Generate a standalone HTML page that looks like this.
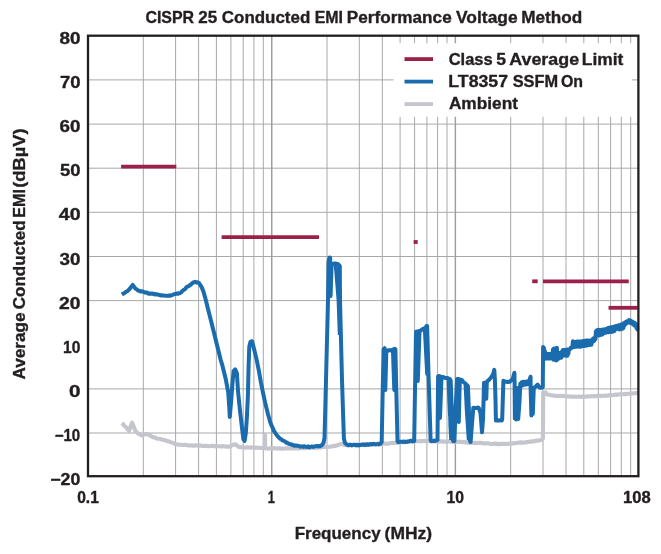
<!DOCTYPE html>
<html><head><meta charset="utf-8"><title>CISPR 25 Conducted EMI</title>
<style>html,body{margin:0;padding:0;background:#fff}body{width:661px;height:554px;overflow:hidden;position:relative;font-family:"Liberation Sans",sans-serif}</style></head>
<body>
<svg width="661" height="554" viewBox="0 0 661 554" style="position:absolute;left:0;top:0;will-change:transform">
<rect x="0" y="0" width="661" height="554" fill="#fff"/>
<path d="M143.3,35.7V476.2M175.6,35.7V476.2M198.6,35.7V476.2M216.4,35.7V476.2M230.9,35.7V476.2M243.2,35.7V476.2M253.9,35.7V476.2M263.3,35.7V476.2M271.7,35.7V476.2M327.0,35.7V476.2M359.3,35.7V476.2M382.3,35.7V476.2M400.1,35.7V476.2M414.6,35.7V476.2M426.9,35.7V476.2M437.6,35.7V476.2M447.0,35.7V476.2M455.4,35.7V476.2M510.7,35.7V476.2M543.0,35.7V476.2M566.0,35.7V476.2M583.8,35.7V476.2M598.3,35.7V476.2M610.6,35.7V476.2M621.3,35.7V476.2M630.7,35.7V476.2M88.0,79.9H638.4M88.0,124.1H638.4M88.0,168.2H638.4M88.0,212.3H638.4M88.0,256.5H638.4M88.0,300.6H638.4M88.0,388.9H638.4M88.0,433.0H638.4" stroke="#a8a8a8" stroke-width="1.00" fill="none"/>
<path d="M271.7,35.7V476.2M455.4,35.7V476.2" stroke="#9e9e9e" stroke-width="1.35" fill="none"/>
<rect x="393.5" y="43.2" width="238.5" height="73.6" fill="#fff"/>
<path d="M121.8,423.1 L123.0,424.1 L124.2,425.7 L125.4,426.7 L126.6,427.8 L127.9,429.6 L129.1,430.9 L130.3,427.2 L132.1,422.7 L133.6,426.3 L135.4,430.9 L136.8,432.2 L138.1,433.6 L139.3,434.0 L140.6,434.9 L141.8,435.4 L143.6,434.7 L145.4,434.1 L147.2,434.4 L149.0,434.5 L150.2,435.7 L151.5,436.2 L152.7,437.2 L154.0,437.3 L155.4,437.8 L156.8,438.4 L158.1,438.7 L159.4,438.8 L160.7,439.0 L161.9,439.7 L163.2,439.8 L164.5,440.0 L165.8,440.4 L167.2,441.1 L168.6,441.2 L169.9,441.8 L171.3,442.4 L172.7,442.7 L174.0,443.4 L175.4,444.0 L176.8,444.4 L178.3,444.6 L179.7,444.8 L181.2,444.7 L182.6,444.9 L183.9,445.0 L185.2,444.9 L186.5,444.9 L187.8,445.2 L189.1,445.5 L190.4,445.5 L191.7,445.4 L193.0,445.6 L194.2,445.8 L195.5,445.4 L196.8,445.4 L198.1,445.6 L199.3,445.6 L200.6,445.6 L201.9,445.7 L203.1,445.9 L204.4,445.9 L205.6,445.9 L206.8,445.9 L208.0,446.2 L209.2,446.3 L210.4,446.0 L211.7,445.8 L212.9,445.9 L214.1,446.4 L215.3,445.9 L216.5,446.4 L217.7,446.3 L218.9,446.3 L220.1,446.2 L221.4,446.6 L222.6,446.1 L223.8,446.3 L225.1,446.5 L226.3,446.3 L227.5,446.8 L228.8,446.5 L230.0,446.7 L231.5,445.5 L233.0,444.8 L234.5,444.4 L236.0,444.6 L237.5,445.9 L239.0,447.0 L240.2,447.0 L241.4,447.2 L242.7,447.3 L243.9,447.5 L245.1,447.6 L246.3,447.5 L247.6,447.3 L248.8,447.5 L250.0,447.6 L251.2,447.4 L252.4,447.4 L253.7,447.7 L254.9,447.9 L256.1,447.6 L257.3,447.7 L258.5,447.7 L259.7,448.0 L261.0,447.9 L262.2,448.0 L263.4,448.1 L264.6,448.0 L264.8,434.5 L265.0,434.5 L265.2,448.3 L266.4,448.2 L267.7,448.5 L268.9,448.6 L270.2,448.1 L271.4,448.6 L272.6,448.5 L273.9,448.1 L275.1,448.3 L276.4,448.4 L277.6,448.6 L278.8,448.3 L280.1,448.4 L281.3,448.6 L282.6,448.5 L283.8,448.6 L285.0,448.4 L286.3,448.5 L287.5,448.2 L288.8,448.5 L290.0,448.4 L291.2,448.6 L292.4,448.4 L293.6,448.4 L294.8,448.1 L296.0,448.5 L297.2,448.5 L298.4,448.4 L299.6,448.1 L300.8,448.3 L302.0,447.9 L303.2,448.2 L304.4,448.2 L305.6,447.8 L306.8,447.6 L308.0,447.8 L309.2,447.9 L310.4,447.9 L311.6,447.7 L312.8,447.4 L314.0,447.9 L315.2,447.4 L316.4,447.8 L317.6,447.4 L318.8,447.4 L320.0,447.5 L321.2,447.5 L322.5,447.0 L323.8,446.9 L325.0,447.0 L326.2,447.0 L327.5,447.0 L328.8,446.7 L330.0,446.8 L331.2,446.4 L332.5,446.5 L333.8,445.9 L335.0,446.0 L336.4,445.4 L337.8,445.1 L339.1,444.5 L340.5,444.3 L341.9,443.7 L343.4,444.4 L345.0,445.0 L346.2,445.0 L347.4,445.2 L348.6,445.0 L349.8,444.8 L351.0,444.8 L352.2,445.0 L353.4,445.0 L354.7,444.6 L355.9,445.0 L357.1,445.0 L358.3,444.7 L359.5,444.7 L360.7,444.5 L361.9,444.6 L363.1,444.6 L364.3,444.6 L365.5,444.2 L366.7,444.8 L367.9,444.5 L369.1,444.4 L370.3,444.6 L371.6,444.4 L372.8,444.4 L374.0,444.5 L375.2,444.0 L376.4,444.3 L377.6,444.2 L378.8,444.5 L380.0,444.2 L381.2,444.3 L382.5,443.8 L383.8,443.8 L385.0,443.5 L386.2,443.6 L387.5,443.7 L388.8,443.6 L390.0,443.2 L391.2,443.0 L392.5,442.8 L393.8,443.0 L395.0,443.0 L396.2,442.4 L397.5,442.7 L398.8,442.1 L400.0,442.3 L401.2,442.0 L402.5,442.0 L403.7,442.2 L404.9,441.9 L406.2,441.8 L407.4,441.9 L408.6,441.5 L409.8,441.8 L411.1,441.3 L412.3,441.5 L413.5,441.2 L414.8,441.1 L416.0,441.2 L417.2,441.2 L418.4,441.2 L419.7,441.1 L420.9,441.1 L422.1,441.2 L423.3,441.0 L424.6,441.0 L425.8,441.3 L427.0,441.2 L428.3,441.3 L429.6,441.3 L430.9,441.5 L432.2,441.3 L433.5,441.5 L434.8,441.2 L436.1,441.5 L437.4,441.5 L438.7,441.6 L440.0,441.4 L441.2,441.3 L442.5,441.4 L443.8,441.7 L445.0,441.4 L446.2,441.9 L447.5,441.8 L448.8,441.4 L450.0,441.5 L451.2,441.8 L452.5,441.6 L453.8,441.5 L455.0,442.0 L456.2,441.8 L457.5,442.0 L458.8,441.6 L460.0,441.9 L461.3,441.9 L462.6,442.2 L463.9,441.9 L465.2,442.1 L466.5,442.5 L467.8,442.7 L469.1,442.8 L470.4,442.4 L471.7,442.7 L473.0,442.8 L474.2,443.0 L475.4,442.9 L476.7,443.1 L477.9,442.9 L479.1,442.8 L480.3,442.9 L481.6,443.0 L482.8,443.3 L484.0,443.4 L485.2,443.5 L486.4,443.3 L487.7,443.3 L488.9,443.4 L490.1,443.9 L491.3,444.0 L492.6,444.0 L493.8,443.6 L495.0,443.9 L496.3,443.6 L497.6,444.2 L498.9,443.9 L500.2,444.1 L501.5,443.8 L502.8,443.9 L504.1,443.9 L505.4,443.9 L506.7,444.0 L508.0,443.9 L509.2,443.5 L510.4,443.8 L511.6,443.8 L512.8,443.2 L514.0,443.3 L515.2,443.3 L516.4,443.0 L517.6,442.8 L518.8,442.6 L520.0,442.7 L521.2,442.3 L522.4,442.7 L523.6,442.6 L524.8,442.4 L526.0,442.4 L527.2,442.1 L528.4,441.9 L529.6,441.8 L530.9,441.6 L532.2,441.4 L533.6,441.4 L534.9,441.1 L536.2,440.5 L537.5,440.7 L538.9,440.4 L540.2,440.2 L541.5,439.8 L542.9,439.0 L543.2,392.5 L545.5,392.3 L546.9,394.3 L548.2,394.7 L549.6,394.7 L550.9,395.2 L552.2,395.5 L553.6,395.6 L554.9,395.7 L556.1,395.9 L557.4,396.0 L558.6,395.8 L559.9,396.1 L561.1,395.8 L562.3,396.0 L563.6,396.1 L564.8,395.9 L566.0,396.2 L567.3,396.4 L568.5,396.5 L569.8,396.3 L571.0,396.8 L572.2,396.7 L573.5,396.5 L574.7,396.7 L575.9,396.8 L577.2,396.7 L578.4,396.6 L579.7,396.5 L580.9,396.9 L582.2,396.6 L583.4,396.6 L584.7,396.7 L585.9,396.8 L587.1,396.2 L588.4,396.5 L589.6,396.5 L590.9,396.2 L592.1,396.3 L593.4,396.1 L594.6,396.3 L595.8,396.0 L597.1,396.1 L598.3,395.8 L599.5,395.8 L600.8,396.1 L602.0,395.8 L603.3,395.7 L604.5,395.9 L605.7,395.6 L607.0,395.7 L608.2,395.4 L609.5,395.4 L610.7,394.9 L611.9,395.1 L613.2,395.1 L614.4,394.9 L615.6,394.5 L616.9,395.0 L618.1,394.4 L619.4,394.5 L620.6,394.2 L621.9,394.3 L623.1,394.3 L624.3,393.8 L625.6,394.3 L626.8,393.9 L628.1,393.8 L629.3,393.8 L630.6,393.5 L631.8,393.4 L633.1,393.5 L634.3,393.3 L635.6,393.2 L637.0,392.9 L638.3,392.9" stroke="#c4c5cd" stroke-width="4.1" fill="none" stroke-linejoin="round" stroke-linecap="butt"/>
<path d="M121.8,294.5 L122.7,293.9 L123.6,293.4 L124.5,293.2 L125.5,292.2 L126.4,291.6 L127.3,291.2 L128.2,290.5 L130.9,287.2 L132.7,284.9 L135.4,288.7 L136.6,289.1 L137.8,290.2 L139.0,290.9 L139.9,291.2 L140.8,291.6 L141.7,291.2 L142.7,291.6 L143.6,291.7 L144.5,292.5 L145.4,292.6 L146.3,292.7 L147.2,292.5 L148.1,293.5 L149.0,293.7 L149.9,293.6 L150.9,293.7 L151.8,293.5 L152.7,293.5 L153.6,294.2 L154.5,293.9 L155.4,294.5 L156.3,294.3 L157.2,294.5 L158.1,294.4 L159.0,294.9 L159.9,295.0 L160.9,295.5 L161.8,295.3 L162.7,295.5 L163.6,295.5 L164.5,295.6 L165.7,295.8 L166.9,295.7 L168.1,295.8 L169.0,295.4 L169.9,295.8 L170.8,295.6 L171.7,295.2 L172.6,294.9 L173.5,294.5 L174.4,294.1 L175.3,293.9 L176.2,293.8 L177.2,293.4 L178.1,293.8 L179.0,293.3 L179.9,293.2 L181.1,292.4 L182.3,291.0 L183.5,290.0 L184.4,289.7 L185.3,288.8 L186.3,287.3 L187.2,286.8 L188.1,286.3 L189.0,286.0 L189.9,285.0 L190.8,284.8 L191.7,283.6 L192.6,283.1 L193.5,282.3 L194.4,282.3 L195.3,281.8 L196.2,282.4 L197.2,282.3 L198.1,282.5 L199.0,283.2 L201.7,287.2 L203.5,291.8 L205.3,298.1 L208.0,309.0 L210.8,319.9 L213.5,330.8 L216.2,341.7 L218.9,352.6 L220.7,360.0 L222.3,365.2 L225.8,379.3 L228.2,392.2 L229.3,407.5 L229.8,416.9 L231.2,400.4 L232.4,384.0 L233.6,371.1 L235.2,369.4 L236.9,373.4 L238.0,391.0 L239.9,409.8 L241.8,426.2 L243.4,439.2 L244.6,440.8 L245.8,433.3 L246.9,416.9 L247.9,395.7 L248.6,365.2 L249.3,346.4 L250.5,341.7 L252.1,341.3 L254.0,348.8 L256.3,358.2 L258.7,369.9 L261.0,382.8 L263.4,394.6 L265.7,405.1 L268.1,414.5 L270.4,422.7 L273.9,430.9 L277.5,436.1 L278.4,436.8 L279.4,438.2 L280.3,438.9 L281.3,439.1 L282.2,440.3 L283.2,440.6 L284.1,441.0 L285.1,441.5 L286.1,442.6 L287.0,442.6 L288.0,443.4 L289.0,443.8 L290.0,444.1 L290.9,444.2 L291.9,445.0 L292.9,444.8 L293.9,445.5 L294.9,445.8 L295.9,445.4 L296.9,445.8 L297.9,445.8 L298.9,445.9 L299.9,446.7 L300.9,446.4 L301.8,446.7 L302.8,446.3 L303.7,446.9 L304.7,446.3 L305.6,446.6 L306.5,447.0 L307.5,446.9 L308.4,446.4 L309.4,447.3 L310.3,446.9 L311.3,446.6 L312.2,446.5 L313.2,446.9 L314.2,446.5 L315.1,446.4 L316.1,446.1 L317.1,446.0 L318.1,446.4 L319.0,446.0 L320.0,446.2 L321.5,445.5 L323.5,443.0 L324.5,438.0 L326.0,380.0 L328.0,300.0 L328.5,262.0 L329.5,257.5 L330.2,258.0 L330.3,296.0 L330.6,296.0 L331.6,264.0 L332.7,263.9 L333.9,263.6 L335.0,263.5 L336.0,263.6 L337.0,264.2 L338.0,264.0 L338.9,265.0 L339.8,266.0 L340.0,300.0 L342.0,380.0 L343.9,438.6 L345.0,443.0 L346.4,444.1 L347.7,445.0 L348.6,445.3 L349.6,444.7 L350.5,444.7 L351.5,445.4 L352.4,445.3 L353.4,444.8 L354.3,444.7 L355.3,445.2 L356.2,445.4 L357.2,444.7 L358.1,445.4 L359.1,445.3 L360.0,445.0 L360.9,445.0 L361.9,444.8 L362.8,444.5 L363.7,444.4 L364.7,445.1 L365.6,444.4 L366.6,444.8 L367.5,444.3 L368.4,444.8 L369.4,444.5 L370.3,444.2 L371.2,444.1 L372.2,444.5 L373.1,443.8 L374.0,443.9 L375.0,444.2 L375.9,444.4 L376.9,444.1 L377.8,443.8 L378.7,444.3 L379.7,443.6 L380.6,443.8 L381.7,442.0 L382.5,400.0 L383.6,349.4 L384.6,348.2 L386.0,352.0 L385.3,390.0 L386.3,352.0 L388.0,350.5 L389.0,350.1 L390.0,350.3 L391.0,350.5 L392.5,349.6 L393.0,352.0 L394.3,390.0 L394.0,352.0 L394.7,348.7 L395.4,349.4 L396.3,390.0 L397.5,441.0 L398.2,442.2 L399.1,442.1 L400.0,441.7 L400.9,441.7 L401.8,441.8 L402.7,441.9 L403.6,441.4 L404.5,441.6 L405.4,442.0 L406.3,442.0 L407.2,441.6 L408.1,441.6 L409.0,441.4 L409.9,441.0 L410.8,440.8 L411.7,440.7 L412.6,441.4 L413.5,441.0 L414.2,441.0 L415.0,390.0 L416.0,331.7 L417.0,331.6 L418.0,331.6 L419.0,331.0 L417.8,381.0 L419.5,332.0 L420.8,330.3 L422.1,329.4 L423.3,328.9 L424.5,328.2 L425.0,332.0 L427.2,374.0 L426.0,330.0 L426.4,325.9 L427.1,325.9 L428.5,374.0 L430.6,439.8 L431.1,441.0 L432.1,440.9 L433.1,441.0 L434.2,440.5 L435.2,441.0 L436.2,440.5 L437.5,440.0 L437.8,410.0 L438.1,376.2 L439.3,376.0 L440.5,376.5 L440.0,418.0 L441.5,377.0 L442.6,377.0 L443.5,377.2 L444.4,377.6 L445.3,378.0 L446.2,378.0 L447.1,378.0 L448.5,378.5 L450.0,415.0 L449.8,378.9 L450.7,380.7 L451.8,410.0 L452.9,440.2 L453.5,441.3 L454.4,441.0 L455.6,410.0 L457.1,378.9 L458.5,379.0 L458.8,422.0 L459.8,379.5 L460.7,379.8 L461.6,379.8 L462.8,381.3 L464.0,382.6 L465.2,383.4 L466.5,384.6 L467.9,386.1 L468.8,407.7 L469.7,440.2 L470.6,442.0 L471.5,430.0 L473.3,407.7 L474.4,407.9 L475.5,408.1 L476.5,408.0 L477.6,407.6 L478.7,407.7 L480.5,413.1 L482.0,432.3 L483.0,419.4 L483.6,399.6 L484.0,382.7 L485.0,382.8 L486.0,382.3 L486.3,398.7 L486.8,382.1 L487.9,380.7 L488.9,380.0 L489.9,378.8 L490.9,377.7 L492.9,374.7 L494.3,369.8 L494.9,379.7 L495.5,399.6 L495.9,419.4 L495.9,420.4 L496.9,420.5 L497.9,420.3 L498.9,420.5 L499.8,420.5 L500.8,420.0 L501.8,420.4 L502.2,419.4 L502.8,399.6 L503.4,380.7 L504.5,381.2 L505.7,381.8 L506.8,381.7 L507.8,382.0 L508.8,381.9 L509.8,381.7 L510.8,380.6 L511.8,379.9 L512.8,378.7 L514.4,372.8 L514.6,382.0 L514.9,418.4 L516.2,419.4 L517.3,388.0 L518.2,419.0 L519.6,400.0 L520.3,383.7 L521.0,383.4 L521.7,382.3 L522.4,385.6 L523.1,381.8 L523.8,384.8 L524.5,383.7 L525.2,381.7 L525.9,384.6 L526.6,381.5 L527.3,384.2 L528.0,381.8 L528.7,381.9 L530.6,376.7 L530.6,388.0 L531.4,415.4 L532.2,392.0 L532.8,414.0 L533.8,387.6 L534.6,387.6 L535.6,386.7 L536.6,385.6 L537.6,384.7 L539.6,387.6 L540.8,387.9 L541.9,387.6 L542.8,387.0 L543.1,346.9 L543.9,347.9 L544.4,358.6 L544.9,351.1 L545.4,358.7 L545.9,354.4 L546.4,358.5 L546.9,354.1 L547.4,358.5 L547.9,354.1 L548.4,358.5 L548.9,354.1 L549.4,358.5 L549.9,354.1 L550.4,358.5 L550.9,354.1 L551.4,358.1 L551.9,354.6 L552.4,358.5 L552.9,349.4 L553.4,359.7 L553.9,348.6 L554.4,359.7 L554.9,348.6 L555.4,359.7 L555.9,348.6 L556.4,360.5 L556.9,347.8 L557.4,359.6 L557.9,353.0 L558.4,358.9 L558.9,353.0 L559.4,357.7 L559.9,353.1 L560.4,357.7 L560.9,353.1 L561.4,357.7 L561.9,351.5 L562.4,355.5 L562.9,349.9 L563.4,355.5 L563.9,349.9 L564.4,355.5 L564.9,349.9 L565.4,355.5 L565.9,349.9 L566.4,355.8 L566.9,349.6 L567.4,355.8 L567.9,349.6 L568.4,353.8 L568.9,349.4 L569.4,349.7 L569.9,349.1 L570.4,348.4 L570.9,347.7 L571.4,348.0 L571.9,347.3 L572.4,347.0 L572.9,341.2 L573.4,347.1 L573.9,342.1 L574.4,347.0 L574.9,342.0 L575.4,346.8 L575.9,341.9 L576.4,346.8 L576.9,341.6 L577.4,346.6 L577.9,341.5 L578.4,346.5 L578.9,341.4 L579.4,346.8 L579.9,341.6 L580.4,346.7 L580.9,341.5 L581.4,346.5 L581.9,341.4 L582.4,346.1 L582.9,341.0 L583.4,346.0 L583.9,340.9 L584.4,345.9 L584.9,340.8 L585.4,345.8 L585.9,340.7 L586.4,345.7 L586.9,340.6 L587.4,345.2 L587.9,340.7 L588.4,345.0 L588.9,340.6 L589.4,344.9 L589.9,340.5 L590.4,344.8 L590.9,340.4 L591.4,344.7 L591.9,340.2 L592.4,342.2 L592.9,338.7 L593.4,341.4 L593.9,338.1 L594.4,340.8 L594.9,337.6 L595.4,339.2 L595.9,331.3 L596.4,335.7 L596.9,330.2 L597.4,335.6 L597.9,329.9 L598.4,335.2 L598.9,329.7 L599.4,335.4 L599.9,330.2 L600.4,335.1 L600.9,330.0 L601.4,334.8 L601.9,329.7 L602.4,334.5 L602.9,329.4 L603.4,333.4 L603.9,329.5 L604.4,333.1 L604.9,329.2 L605.4,332.8 L605.9,329.0 L606.4,332.5 L606.9,328.7 L607.4,332.2 L607.9,328.0 L608.4,332.3 L608.9,327.7 L609.4,332.0 L609.9,327.4 L610.4,331.7 L610.9,327.2 L611.4,332.0 L611.9,327.3 L612.4,331.7 L612.9,327.0 L613.4,331.4 L613.9,326.8 L614.4,331.1 L614.9,326.2 L615.4,329.3 L615.9,326.0 L616.4,329.0 L616.9,325.7 L617.4,328.7 L617.9,325.4 L618.4,328.4 L618.9,325.2 L619.4,329.6 L619.9,324.9 L620.4,329.3 L620.9,324.6 L621.4,329.0 L621.9,324.3 L622.4,328.7 L622.9,324.1 L623.4,328.0 L623.9,323.0 L624.4,325.7 L624.9,322.4 L625.4,324.3 L625.9,321.9 L626.4,323.3 L626.9,321.4 L627.4,322.9 L627.9,321.0 L628.4,322.5 L628.9,320.1 L629.4,322.2 L629.9,320.2 L630.4,323.0 L630.9,320.7 L631.4,323.1 L631.9,321.4 L632.4,323.8 L632.9,321.9 L633.4,324.6 L633.9,322.4 L634.4,325.4 L634.9,322.9 L635.4,326.1 L635.9,323.9 L636.4,328.0 L636.9,325.5 L637.4,329.6 L638.3,329.8" stroke="#1b6cae" stroke-width="4.0" fill="none" stroke-linejoin="round" stroke-linecap="butt"/>
<path d="M335.4,264.0 L336.2,270.0 L338.6,300.0 L339.8,335.0" stroke="#1b6cae" stroke-width="4.0" fill="none" stroke-linejoin="round"/>
<path d="M465.6,385.0 L466.8,410.0 L468.8,440.0" stroke="#1b6cae" stroke-width="4.0" fill="none" stroke-linejoin="round"/>
<path d="M449.4,381.0 L450.4,425.0 L451.2,440.0" stroke="#1b6cae" stroke-width="4.0" fill="none" stroke-linejoin="round"/>
<path d="M121.1,166.7H176.3" stroke="#9a2248" stroke-width="3.8"/>
<path d="M221.6,237.1H319.0" stroke="#9a2248" stroke-width="3.8"/>
<path d="M413.6,242.0H417.7" stroke="#9a2248" stroke-width="3.8"/>
<path d="M532.2,281.3H537.7" stroke="#9a2248" stroke-width="3.8"/>
<path d="M543.0,281.3H628.8" stroke="#9a2248" stroke-width="3.8"/>
<path d="M608.5,307.8H637.7" stroke="#9a2248" stroke-width="3.8"/>
<path d="M404.5,59.1H433" stroke="#9a2248" stroke-width="3.8"/>
<path d="M404.5,81.6H433" stroke="#1b6cae" stroke-width="3.8"/>
<path d="M404.5,104.1H433" stroke="#c4c5cd" stroke-width="3.8"/>
<rect x="88.0" y="35.7" width="550.4" height="440.5" fill="none" stroke="#231f20" stroke-width="2.3"/>
<text transform="matrix(0.9616 0 0 1 145.38 23.30)" font-size="16.6" font-family="Liberation Sans, sans-serif" font-weight="bold" fill="#231f20" stroke="#231f20" stroke-width="0.35" stroke-linejoin="round">CISPR</text>
<text transform="matrix(1.0229 0 0 1 198.19 23.30)" font-size="16.6" font-family="Liberation Sans, sans-serif" font-weight="bold" fill="#231f20" stroke="#231f20" stroke-width="0.35" stroke-linejoin="round">25</text>
<text transform="matrix(1.0206 0 0 1 221.83 23.30)" font-size="16.6" font-family="Liberation Sans, sans-serif" font-weight="bold" fill="#231f20" stroke="#231f20" stroke-width="0.35" stroke-linejoin="round">Conducted</text>
<text transform="matrix(0.9615 0 0 1 314.64 23.30)" font-size="16.6" font-family="Liberation Sans, sans-serif" font-weight="bold" fill="#231f20" stroke="#231f20" stroke-width="0.35" stroke-linejoin="round">EMI</text>
<text transform="matrix(1.0350 0 0 1 346.76 23.30)" font-size="16.6" font-family="Liberation Sans, sans-serif" font-weight="bold" fill="#231f20" stroke="#231f20" stroke-width="0.35" stroke-linejoin="round">Performance</text>
<text transform="matrix(1.0500 0 0 1 456.04 23.30)" font-size="16.6" font-family="Liberation Sans, sans-serif" font-weight="bold" fill="#231f20" stroke="#231f20" stroke-width="0.35" stroke-linejoin="round">Voltage</text>
<text transform="matrix(1.0351 0 0 1 521.16 23.30)" font-size="16.6" font-family="Liberation Sans, sans-serif" font-weight="bold" fill="#231f20" stroke="#231f20" stroke-width="0.35" stroke-linejoin="round">Method</text>
<text transform="matrix(1.1818 0 0 1 59.51 43.90)" font-size="16.0" font-family="Liberation Sans, sans-serif" font-weight="bold" fill="#231f20" stroke="#231f20" stroke-width="0.35" stroke-linejoin="round">80</text>
<text transform="matrix(1.1569 0 0 1 59.93 88.03)" font-size="16.0" font-family="Liberation Sans, sans-serif" font-weight="bold" fill="#231f20" stroke="#231f20" stroke-width="0.35" stroke-linejoin="round">70</text>
<text transform="matrix(1.1758 0 0 1 59.61 132.17)" font-size="16.0" font-family="Liberation Sans, sans-serif" font-weight="bold" fill="#231f20" stroke="#231f20" stroke-width="0.35" stroke-linejoin="round">60</text>
<text transform="matrix(1.1515 0 0 1 60.02 176.30)" font-size="16.0" font-family="Liberation Sans, sans-serif" font-weight="bold" fill="#231f20" stroke="#231f20" stroke-width="0.35" stroke-linejoin="round">50</text>
<text transform="matrix(1.2239 0 0 1 58.79 220.44)" font-size="16.0" font-family="Liberation Sans, sans-serif" font-weight="bold" fill="#231f20" stroke="#231f20" stroke-width="0.35" stroke-linejoin="round">40</text>
<text transform="matrix(1.1758 0 0 1 59.61 264.58)" font-size="16.0" font-family="Liberation Sans, sans-serif" font-weight="bold" fill="#231f20" stroke="#231f20" stroke-width="0.35" stroke-linejoin="round">30</text>
<text transform="matrix(1.2061 0 0 1 59.10 308.71)" font-size="16.0" font-family="Liberation Sans, sans-serif" font-weight="bold" fill="#231f20" stroke="#231f20" stroke-width="0.35" stroke-linejoin="round">20</text>
<text transform="matrix(0.9750 0 0 1 63.02 352.85)" font-size="16.0" font-family="Liberation Sans, sans-serif" font-weight="bold" fill="#231f20" stroke="#231f20" stroke-width="0.35" stroke-linejoin="round">10</text>
<text transform="matrix(1.2933 0 0 1 68.93 396.98)" font-size="16.0" font-family="Liberation Sans, sans-serif" font-weight="bold" fill="#231f20" stroke="#231f20" stroke-width="0.35" stroke-linejoin="round">0</text>
<text transform="matrix(0.9398 0 0 1 54.70 441.12)" font-size="16.0" font-family="Liberation Sans, sans-serif" font-weight="bold" fill="#231f20" stroke="#231f20" stroke-width="0.35" stroke-linejoin="round">−10</text>
<text transform="matrix(1.1068 0 0 1 50.27 485.25)" font-size="16.0" font-family="Liberation Sans, sans-serif" font-weight="bold" fill="#231f20" stroke="#231f20" stroke-width="0.35" stroke-linejoin="round">−20</text>
<text transform="matrix(0.9762 0 0 1 77.17 503.00)" font-size="16.0" font-family="Liberation Sans, sans-serif" font-weight="bold" fill="#231f20" stroke="#231f20" stroke-width="0.35" stroke-linejoin="round">0.1</text>
<text transform="matrix(0.8000 0 0 1 267.80 503.00)" font-size="16.0" font-family="Liberation Sans, sans-serif" font-weight="bold" fill="#231f20" stroke="#231f20" stroke-width="0.35" stroke-linejoin="round">1</text>
<text transform="matrix(0.9812 0 0 1 446.52 503.00)" font-size="16.0" font-family="Liberation Sans, sans-serif" font-weight="bold" fill="#231f20" stroke="#231f20" stroke-width="0.35" stroke-linejoin="round">10</text>
<text transform="matrix(1.0376 0 0 1 622.96 503.00)" font-size="16.0" font-family="Liberation Sans, sans-serif" font-weight="bold" fill="#231f20" stroke="#231f20" stroke-width="0.35" stroke-linejoin="round">108</text>
<text transform="matrix(1.0248 0 0 1 294.68 538.80)" font-size="16.6" font-family="Liberation Sans, sans-serif" font-weight="bold" fill="#231f20" stroke="#231f20" stroke-width="0.35" stroke-linejoin="round">Frequency</text>
<text transform="matrix(1.0529 0 0 1 384.61 538.80)" font-size="16.6" font-family="Liberation Sans, sans-serif" font-weight="bold" fill="#231f20" stroke="#231f20" stroke-width="0.35" stroke-linejoin="round">(MHz)</text>
<text transform="matrix(0.9942 0 0 1 448.65 64.70)" font-size="16.6" font-family="Liberation Sans, sans-serif" font-weight="bold" fill="#231f20" stroke="#231f20" stroke-width="0.35" stroke-linejoin="round">Class</text>
<text transform="matrix(1.0545 0 0 1 496.17 64.70)" font-size="16.6" font-family="Liberation Sans, sans-serif" font-weight="bold" fill="#231f20" stroke="#231f20" stroke-width="0.35" stroke-linejoin="round">5</text>
<text transform="matrix(1.0761 0 0 1 509.26 64.70)" font-size="16.6" font-family="Liberation Sans, sans-serif" font-weight="bold" fill="#231f20" stroke="#231f20" stroke-width="0.35" stroke-linejoin="round">Average</text>
<text transform="matrix(1.0494 0 0 1 581.75 64.70)" font-size="16.6" font-family="Liberation Sans, sans-serif" font-weight="bold" fill="#231f20" stroke="#231f20" stroke-width="0.35" stroke-linejoin="round">Limit</text>
<text transform="matrix(1.0673 0 0 1 448.33 86.50)" font-size="16.6" font-family="Liberation Sans, sans-serif" font-weight="bold" fill="#231f20" stroke="#231f20" stroke-width="0.35" stroke-linejoin="round">LT8357</text>
<text transform="matrix(0.9843 0 0 1 512.71 86.50)" font-size="16.6" font-family="Liberation Sans, sans-serif" font-weight="bold" fill="#231f20" stroke="#231f20" stroke-width="0.35" stroke-linejoin="round">SSFM</text>
<text transform="matrix(0.9600 0 0 1 560.88 86.50)" font-size="16.6" font-family="Liberation Sans, sans-serif" font-weight="bold" fill="#231f20" stroke="#231f20" stroke-width="0.35" stroke-linejoin="round">On</text>
<text transform="matrix(1.0418 0 0 1 448.88 108.70)" font-size="16.6" font-family="Liberation Sans, sans-serif" font-weight="bold" fill="#231f20" stroke="#231f20" stroke-width="0.35" stroke-linejoin="round">Ambient</text>
<text transform="translate(25.0 379.0) rotate(-90) matrix(1.0353 0 0 1 -0.52 0)" font-size="16.6" font-family="Liberation Sans, sans-serif" font-weight="bold" fill="#231f20" stroke="#231f20" stroke-width="0.35" stroke-linejoin="round">Average</text>
<text transform="translate(25.0 379.0) rotate(-90) matrix(1.0242 0 0 1 69.83 0)" font-size="16.6" font-family="Liberation Sans, sans-serif" font-weight="bold" fill="#231f20" stroke="#231f20" stroke-width="0.35" stroke-linejoin="round">Conducted</text>
<text transform="translate(25.0 379.0) rotate(-90) matrix(0.9725 0 0 1 161.33 0)" font-size="16.6" font-family="Liberation Sans, sans-serif" font-weight="bold" fill="#231f20" stroke="#231f20" stroke-width="0.35" stroke-linejoin="round">EMI</text>
<text transform="translate(25.0 379.0) rotate(-90) matrix(1.1005 0 0 1 191.27 0)" font-size="16.6" font-family="Liberation Sans, sans-serif" font-weight="bold" fill="#231f20" stroke="#231f20" stroke-width="0.35" stroke-linejoin="round">(dBµV)</text>
</svg>
</body></html>
